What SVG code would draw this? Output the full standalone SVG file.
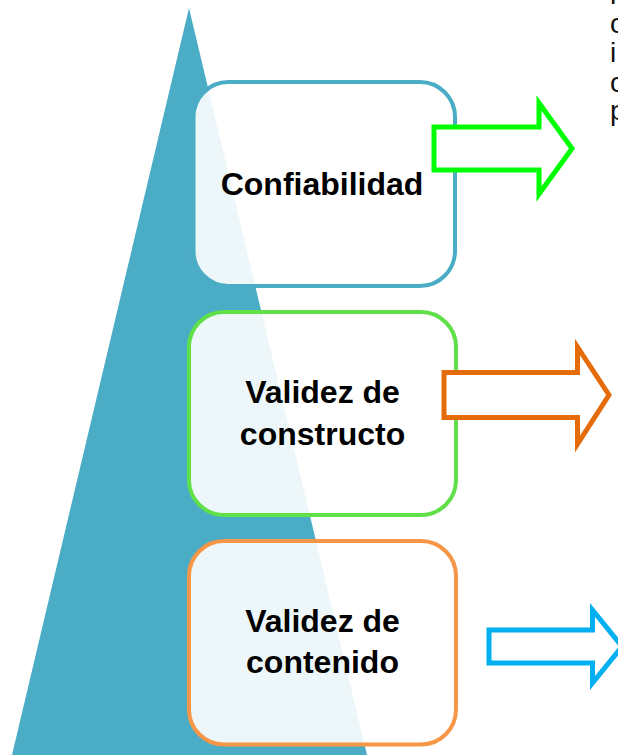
<svg xmlns="http://www.w3.org/2000/svg" width="618" height="755" viewBox="0 0 618 755">
<style>
.box{fill:#ffffff;fill-opacity:0.9;stroke-width:4}
.lbl{font-family:"Liberation Sans",Arial,sans-serif;font-weight:bold;font-size:32px;fill:#000;text-anchor:middle}
.side{font-family:"Liberation Sans",Arial,sans-serif;font-size:28px;fill:#111}
.arrow{fill:#ffffff;stroke-width:5;stroke-linejoin:miter}
</style>
<rect width="618" height="755" fill="#ffffff"/>
<polygon id="triangle" points="189,8 12,755 367,755" fill="#4BACC6"/>
<g id="side-text">
<text class="side" x="610" y="4">n</text>
<text class="side" x="610" y="33">c</text>
<text class="side" x="610" y="62">i</text>
<text class="side" x="610" y="92">c</text>
<text class="side" x="610" y="120">p</text>
</g>
<g id="node-confiabilidad">
<rect class="box" x="193.5" y="82" width="261.5" height="204" rx="35" ry="35" stroke="#4BACC6"/>
<text class="lbl" x="322" y="195">Confiabilidad</text>
</g>
<g id="node-constructo">
<rect class="box" x="189" y="312" width="267" height="203" rx="35" ry="35" stroke="#60DF48"/>
<text class="lbl" x="322.5" y="403">Validez de</text>
<text class="lbl" x="322.5" y="445">constructo</text>
</g>
<g id="node-contenido">
<rect class="box" x="189" y="541" width="267" height="203.5" rx="35" ry="35" stroke="#F79646"/>
<text class="lbl" x="322.5" y="632">Validez de</text>
<text class="lbl" x="322.5" y="673">contenido</text>
</g>
<g id="connectors">
<polygon class="arrow" stroke="#00FF00" points="434,127 539,127 539,103 572,148.5 539,194 539,170 434,170"/>
<polygon class="arrow" stroke="#E46C0A" points="444,372.5 577.5,372.5 577.5,347 609,395 577.5,444 577.5,417.5 444,417.5"/>
<polygon class="arrow" stroke="#00B0F0" points="489,630 592.5,630 592.5,610 622,646.5 592.5,683 592.5,663 489,663"/>
</g>
</svg>
